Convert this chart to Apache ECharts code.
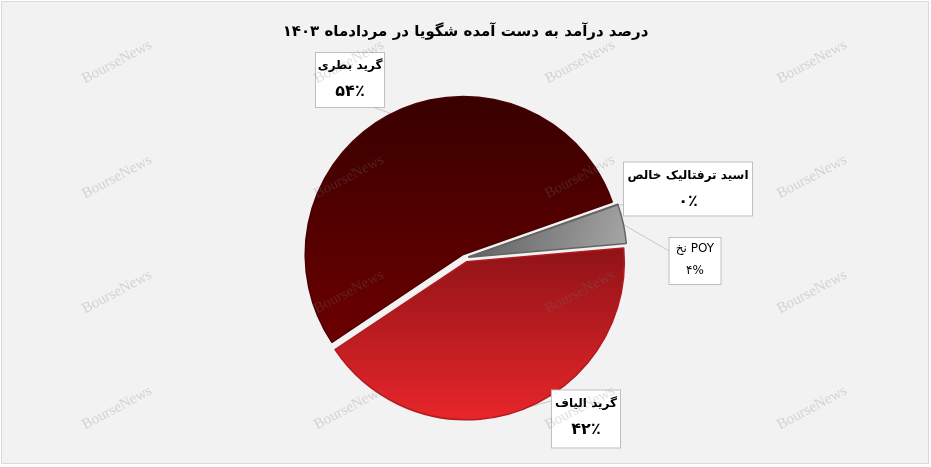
<!DOCTYPE html>
<html>
<head>
<meta charset="utf-8">
<script src="https://cdn.jsdelivr.net/npm/echarts@6/dist/echarts.min.js"></script>
<style>
html,body{margin:0;padding:0;background:#ffffff;}
#c{width:931px;height:467px;}
</style>
</head>
<body>
<div id="c"></div>
<script>
// ---- data ----
const titleText = 'درصد درآمد به دست آمده شگویا در مردادماه ۱۴۰۳';
const categories = ['گرید الیاف', 'گرید بطری', 'اسید ترفتالیک خالص', 'نخ POY'];
const values = [42, 54, 0, 4];
const percentSigns = ['٪', '٪', '٪', '%'];
const watermarkText = 'BourseNews';

// ---- styling / layout ----
function grad(x, y, x2, y2, c1, c2) {
  return {type: 'linear', x: x, y: y, x2: x2, y2: y2,
    colorStops: [{offset: 0, color: c1}, {offset: 1, color: c2}]};
}
const sliceColors = [
  grad(0, 0, 0, 1, '#8f1317', '#e8262b'),
  grad(0, 0, 0, 1, '#380000', '#6c0000'),
  grad(0, 0, 0, 1, '#777777', '#777777'),
  grad(0, 0, 1, 1, '#5a5a5a', '#a8a8a8')
];
const sliceBorders = ['#b31a1e', '#4a0000', '#666666', '#646464'];
const labelCenters = [[586, 419], [350, 80], [688, 189], [695, 261]];
const labelBoxes = [[70, 59], [70, 56], [130, 55], [53, 48]];
// where each leader meets its label box (relative to box center)
const leaderEnds = [[-35, -18], [22, 27], [-65, 16], [-26, -10]];
const boldLabel = [true, true, true, false];

function toFa(n) {
  return String(n).replace(/[0-9]/g, d => '۰۱۲۳۴۵۶۷۸۹'[+d]);
}

const sliceData = categories.map((name, i) => ({
  name: name,
  value: values[i],
  selected: true,
  itemStyle: {color: sliceColors[i], borderColor: sliceBorders[i], borderWidth: 1.5}
}));

const labelData = categories.map((name, i) => ({
  name: name,
  value: values[i],
  label: {
    width: labelBoxes[i][0] - 2,
    height: labelBoxes[i][1] - 2,
    formatter: (boldLabel[i] ? '{n|' : '{m|') + name + '}\n' + (boldLabel[i] ? '{v|' : '{w|') + toFa(values[i]) + percentSigns[i] + '}'
  }
}));

const wmCols = [117, 349, 580, 812];
const wmRows = [62, 177, 292, 408];
const watermarks = [];
wmRows.forEach(y => wmCols.forEach(x => {
  watermarks.push({
    type: 'text', x: x, y: y, rotation: 28 * Math.PI / 180, z: 100, silent: true,
    style: {text: watermarkText, fill: 'rgba(120,120,120,0.26)', font: '15px "Liberation Serif", serif',
      align: 'center', verticalAlign: 'middle'}
  });
}));

const chart = echarts.init(document.getElementById('c'), null, {renderer: 'canvas'});
chart.setOption({
  backgroundColor: '#ffffff',
  animation: false,
  title: {
    text: titleText, left: 'center', top: 20,
    textStyle: {fontFamily: '"DejaVu Sans", sans-serif', fontWeight: 'bold', fontSize: 15, color: '#000'}
  },
  graphic: [
    {type: 'rect', z: -10, silent: true, shape: {x: 1.5, y: 1.5, width: 927, height: 462},
      style: {fill: '#f2f2f2', stroke: '#d9d9d9', lineWidth: 1}}
  ].concat(watermarks),
  series: [{
    type: 'pie',
    center: [465, 258],
    radius: [0, 158],
    startAngle: 5,
    clockwise: true,
    selectedMode: 'multiple',
    selectedOffset: 4,
    emphasis: {disabled: true},
    label: {show: false},
    labelLine: {show: false},
    data: sliceData
  }, {
    type: 'pie',
    center: [465, 258],
    radius: [0, 161],
    startAngle: 5,
    clockwise: true,
    silent: true,
    avoidLabelOverlap: false,
    emphasis: {disabled: true},
    itemStyle: {color: 'rgba(0,0,0,0)', borderWidth: 0},
    label: {
      show: true,
      position: 'outside',
      backgroundColor: '#ffffff',
      borderColor: '#bfbfbf',
      borderWidth: 1,
      align: 'center',
      verticalAlign: 'middle',
      rich: {
        n: {fontFamily: '"DejaVu Sans", sans-serif', fontWeight: 'bold', fontSize: 12, color: '#000', lineHeight: 26, align: 'center'},
        v: {fontFamily: '"DejaVu Sans", sans-serif', fontWeight: 'bold', fontSize: 16, color: '#000', lineHeight: 26, align: 'center'},
        m: {fontFamily: '"DejaVu Sans", sans-serif', fontSize: 12, color: '#000', lineHeight: 22, align: 'center'},
        w: {fontFamily: '"DejaVu Sans", sans-serif', fontSize: 12, color: '#000', lineHeight: 22, align: 'center'}
      }
    },
    labelLine: {show: true, length: 10, length2: 10, lineStyle: {color: '#c8c8c8', width: 1}},
    labelLayout: function (p) {
      const i = p.dataIndex;
      const c = labelCenters[i];
      const res = {x: c[0], y: c[1], align: 'center', verticalAlign: 'middle'};
      if (p.labelLinePoints && p.labelLinePoints.length) {
        const a = p.labelLinePoints[0];
        const e = [c[0] + leaderEnds[i][0], c[1] + leaderEnds[i][1]];
        res.labelLinePoints = [[a[0], a[1]], [(a[0] + e[0]) / 2, (a[1] + e[1]) / 2], e];
      }
      return res;
    },
    data: labelData
  }]
});
</script>
</body>
</html>
